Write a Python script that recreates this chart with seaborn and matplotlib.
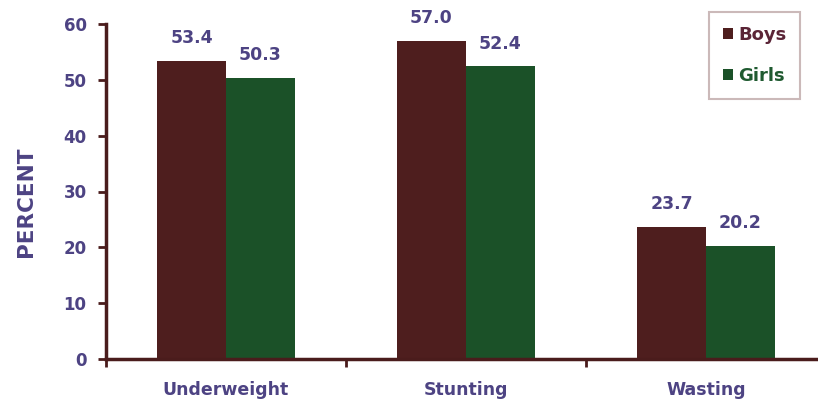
import pandas as pd
import matplotlib
matplotlib.use("Agg")
import matplotlib.pyplot as plt
import seaborn as sns

categories = ["Underweight", "Stunting", "Wasting"]
boys = [53.4, 57.0, 23.7]
girls = [50.3, 52.4, 20.2]
groups = ["Boys", "Girls"]

df = pd.DataFrame({
    "category": categories * 2,
    "group": ["Boys"] * 3 + ["Girls"] * 3,
    "value": boys + girls,
})

sns.set_style("white")
plt.rcParams["font.family"] = ["DejaVu Sans"]
plt.rcParams["font.weight"] = "bold"

text_col = "#4d4383"
axis_col = "#4a1c1c"
palette = {"Boys": "#4e1e1e", "Girls": "#1b5128"}

fig = plt.figure(figsize=(8.18, 4.07), dpi=100)
ax = fig.add_axes([106 / 818, 1 - 359 / 407, 720 / 818, 335 / 407])

sns.barplot(data=df, x="category", y="value", hue="group", hue_order=groups,
            order=categories, palette=palette, width=0.575, saturation=1,
            edgecolor="none", ax=ax)

for cont in ax.containers:
    ax.bar_label(cont, fmt="%.1f", padding=10, fontsize=12.5, fontweight="bold",
                 color=text_col)

ax.set_xlim(-0.5, 2.5)
ax.set_ylim(0, 60)
ax.set_yticks(range(0, 61, 10))
ax.set_xticks([-0.5, 0.5, 1.5, 2.5], minor=True)
ax.tick_params(axis="x", which="major", bottom=False, pad=12, labelsize=12.5,
               labelcolor=text_col)
ax.tick_params(axis="x", which="minor", bottom=True, length=6, width=2,
               color=axis_col, direction="out")
ax.tick_params(axis="y", left=True, length=6, width=2, color=axis_col,
               labelsize=12, labelcolor=text_col, pad=8)
ax.set_xlabel("")
ax.set_ylabel("PERCENT", fontsize=15.5, color=text_col, labelpad=20)
ax.yaxis.label.set_fontweight("bold")
ax.yaxis.label.set_y(0.47)

for side in ["top", "right"]:
    ax.spines[side].set_visible(False)
for side in ["left", "bottom"]:
    ax.spines[side].set_color(axis_col)
    ax.spines[side].set_linewidth(2.5)

leg = ax.legend(loc="upper right", bbox_to_anchor=(800 / 818, 1 - 12 / 407),
                bbox_transform=fig.transFigure, frameon=True, fancybox=False,
                borderaxespad=0, handlelength=0.55, handleheight=0.55,
                handletextpad=0.3, labelspacing=1.3, borderpad=0.75,
                prop={"size": 13, "weight": "bold"})
leg.get_frame().set_edgecolor("#bfa8a8")
leg.get_frame().set_linewidth(1.5)
for txt, c in zip(leg.get_texts(), ["#5a2436", "#1f5a30"]):
    txt.set_color(c)

fig.savefig("out.png", dpi=100)
